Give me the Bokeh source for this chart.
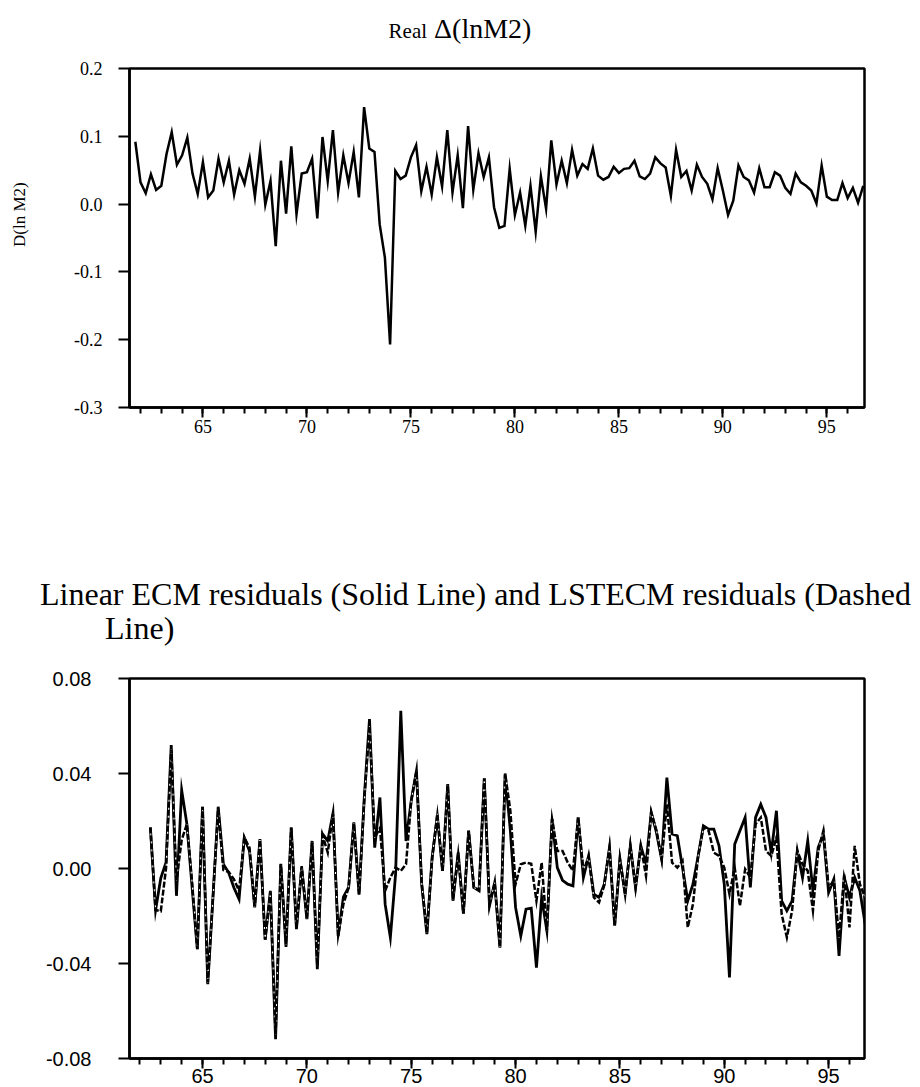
import math
from bokeh.plotting import figure
from bokeh.layouts import column
from bokeh.models import Range1d, FixedTicker, PrintfTickFormatter, Div
from bokeh.embed import file_html
from bokeh.resources import INLINE

# ---------------- data ----------------
# Real D(ln M2), quarterly, 1961Q4 .. 1996Q4 (years written as two digits)
m2_start = 61.75
m2_step = 0.25
dlnm2 = [
    0.092, 0.032, 0.016, 0.044, 0.021, 0.027, 0.074, 0.106, 0.058, 0.072,
    0.098, 0.045, 0.015, 0.062, 0.010, 0.020, 0.067, 0.032, 0.064, 0.014,
    0.050, 0.030, 0.067, 0.011, 0.079, -0.001, 0.034, -0.062, 0.064, -0.014,
    0.085, -0.015, 0.045, 0.047, 0.067, -0.021, 0.099, 0.034, 0.109, 0.017,
    0.072, 0.031, 0.077, 0.010, 0.143, 0.082, 0.077, -0.030, -0.079, -0.207,
    0.049, 0.037, 0.042, 0.069, 0.087, 0.019, 0.055, 0.014, 0.069, 0.026,
    0.109, 0.017, 0.072, -0.006, 0.115, 0.021, 0.075, 0.040, 0.069, -0.005,
    -0.035, -0.032, 0.052, -0.016, 0.017, -0.032, 0.027, -0.041, 0.041, -0.007,
    0.094, 0.029, 0.064, 0.031, 0.080, 0.042, 0.059, 0.052, 0.082, 0.042,
    0.036, 0.040, 0.055, 0.046, 0.052, 0.053, 0.064, 0.041, 0.037, 0.045,
    0.069, 0.060, 0.054, 0.012, 0.080, 0.040, 0.049, 0.020, 0.058, 0.040,
    0.030, 0.007, 0.053, 0.020, -0.016, 0.005, 0.057, 0.040, 0.035, 0.017,
    0.053, 0.025, 0.025, 0.047, 0.042, 0.024, 0.015, 0.045, 0.032, 0.027,
    0.020, 0.001, 0.057, 0.011, 0.006, 0.006, 0.031, 0.009, 0.024, 0.002,
    0.027,
]

# Residuals, quarterly, 1962Q3 .. 1996Q4
res_start = 62.5
res_step = 0.25
ecm_resid = [
    0.0173, -0.0175, -0.0040, 0.0025, 0.0520, -0.0115, 0.0330, 0.0187, -0.0080, -0.0340,
    0.0260, -0.0487, -0.0120, 0.0260, 0.0018, -0.0017, -0.0080, -0.0129, 0.0130, 0.0074,
    -0.0164, 0.0124, -0.0300, -0.0094, -0.0719, 0.0018, -0.0330, 0.0173, -0.0255, 0.0004,
    -0.0213, 0.0116, -0.0424, 0.0145, 0.0116, 0.0232, -0.0284, -0.0120, -0.0080, 0.0194,
    -0.0108, 0.0299, 0.0629, 0.0088, 0.0299, -0.0150, -0.0290, -0.0024, 0.0664, 0.0116,
    0.0285, 0.0410, -0.0066, -0.0276, 0.0046, 0.0220, -0.0010, 0.0355, -0.0136, 0.0067,
    -0.0190, 0.0159, -0.0080, -0.0094, 0.0380, -0.0157, -0.0059, -0.0333, 0.0397, 0.0159,
    -0.0164, -0.0284, -0.0171, -0.0167, -0.0417, -0.0122, -0.0262, 0.0208, 0.0004, -0.0050,
    -0.0066, -0.0073, 0.0215, -0.0038, 0.0053, -0.0108, -0.0122, -0.0066, 0.0088, -0.0241,
    0.0039, -0.0108, 0.0095, -0.0080, 0.0095, 0.0018, 0.0236, 0.0152, 0.0039, 0.0383,
    0.0145, 0.0138, 0.0004, -0.0136, -0.0066, 0.0053, 0.0180, 0.0166, 0.0166, 0.0095,
    -0.0066, -0.0459, 0.0102, 0.0159, 0.0215, -0.0080, 0.0215, 0.0270, 0.0215, 0.0067,
    0.0243, -0.0136, -0.0178, -0.0136, 0.0074, -0.0038, 0.0116, -0.0094, 0.0088, 0.0145,
    -0.0101, -0.0045, -0.0368, -0.0038, -0.0122, -0.0038, -0.0094, -0.0234,
]
lstecm_resid = [
    0.0173, -0.0175, -0.0180, 0.0000, 0.0500, -0.0050, 0.0120, 0.0187, -0.0060, -0.0340,
    0.0260, -0.0480, -0.0120, 0.0250, -0.0007, -0.0014, -0.0045, -0.0094, 0.0130, 0.0088,
    -0.0160, 0.0120, -0.0300, -0.0100, -0.0700, 0.0020, -0.0320, 0.0170, -0.0250, 0.0010,
    -0.0210, 0.0110, -0.0410, 0.0140, 0.0067, 0.0230, -0.0280, -0.0150, -0.0080, 0.0190,
    -0.0110, 0.0290, 0.0600, 0.0130, 0.0170, -0.0094, -0.0038, 0.0004, -0.0010, 0.0018,
    0.0285, 0.0410, -0.0060, -0.0270, 0.0040, 0.0230, -0.0010, 0.0350, -0.0130, 0.0060,
    -0.0190, 0.0160, -0.0080, -0.0090, 0.0380, -0.0150, -0.0060, -0.0330, 0.0400, 0.0243,
    -0.0066, 0.0018, 0.0025, 0.0020, -0.0136, 0.0025, -0.0262, 0.0208, 0.0074, 0.0074,
    0.0025, -0.0010, 0.0215, -0.0010, 0.0050, -0.0122, -0.0143, -0.0070, 0.0088, -0.0240,
    0.0040, -0.0110, 0.0095, -0.0080, 0.0095, -0.0031, 0.0236, 0.0160, 0.0039, 0.0270,
    0.0025, 0.0004, 0.0032, -0.0248, -0.0150, 0.0053, 0.0172, 0.0159, 0.0067, 0.0053,
    0.0004, -0.0108, 0.0004, -0.0157, -0.0003, -0.0038, 0.0187, 0.0215, 0.0074, 0.0053,
    0.0130, -0.0192, -0.0290, -0.0178, 0.0074, 0.0018, -0.0010, -0.0178, 0.0074, 0.0159,
    -0.0080, -0.0052, -0.0290, -0.0024, -0.0248, 0.0095, -0.0066, -0.0122,
]

x_major = [65, 70, 75, 80, 85, 90, 95]
x_minor = list(range(62, 97))
top_yticks = [-0.3, -0.2, -0.1, 0.0, 0.1, 0.2]
bot_yticks = [-0.08, -0.04, 0.0, 0.04, 0.08]

top_title_a = "Real"
top_title_b = "\u0394(lnM2)"
top_ylabel = "D(ln M2)"
bot_title_1 = "Linear ECM residuals (Solid Line) and LSTECM residuals (Dashed"
bot_title_2 = "Line)"

m2_x = [m2_start + m2_step * i for i in range(len(dlnm2))]
res_x = [res_start + res_step * i for i in range(len(ecm_resid))]

SERIF = "Liberation Serif"
SANS = "Liberation Sans"
W = 920


def style_axes(p, font, size, ylabel_standoff, yticks, yfmt, y_tick_out):
    p.xgrid.visible = False
    p.ygrid.visible = False
    p.outline_line_color = "black"
    p.outline_line_width = 2.5
    p.background_fill_color = "white"
    p.border_fill_color = "white"
    for ax in (p.xaxis[0], p.yaxis[0]):
        ax.axis_line_width = 2.5
        ax.axis_line_color = "black"
        ax.major_tick_line_width = 2
        ax.minor_tick_line_width = 2
        ax.major_tick_in = 0
        ax.minor_tick_in = 0
        ax.major_label_text_font = font
        ax.major_label_text_font_size = size
        ax.major_label_text_color = "black"
    xa = p.xaxis[0]
    xa.ticker = FixedTicker(ticks=x_major, minor_ticks=x_minor)
    xa.major_tick_out = 10
    xa.minor_tick_out = 6
    xa.major_label_standoff = 2
    ya = p.yaxis[0]
    ya.ticker = FixedTicker(ticks=yticks, minor_ticks=[])
    ya.formatter = PrintfTickFormatter(format=yfmt)
    ya.major_tick_out = y_tick_out
    ya.minor_tick_out = 0
    ya.major_label_standoff = ylabel_standoff


# ---------------- top title (page y 0..60) ----------------
html1 = (
    '<div style="position:relative;width:920px;height:60px;overflow:hidden;">'
    '<div style="position:absolute;left:0;top:15px;width:920px;text-align:center;'
    "white-space:nowrap;font-family:'Liberation Serif',serif;font-size:28px;"
    'line-height:1;color:#000;">'
    '<span style="font-size:21px;">%s</span> <span>%s</span></div></div>'
    % (top_title_a, top_title_b)
)
div1 = Div(text=html1, width=W, height=60, margin=0)

# ---------------- top chart (page y 60..480) ----------------
p1 = figure(width=W, height=420, output_backend="svg", toolbar_location=None,
            x_range=Range1d(61.47, 96.81), y_range=Range1d(-0.3, 0.2),
            min_border_left=129, min_border_right=56,
            min_border_top=8, min_border_bottom=73)
style_axes(p1, SERIF, "18px", 16, top_yticks, "%.1f", 11)
ya1 = p1.yaxis[0]
# leading no-break spaces nudge the centred label upward, as in the original
ya1.axis_label = "\u00a0" * 11 + top_ylabel
ya1.axis_label_text_font = SERIF
ya1.axis_label_text_font_size = "17px"
ya1.axis_label_text_font_style = "normal"
ya1.axis_label_text_color = "black"
ya1.axis_label_standoff = 42
p1.line(m2_x, dlnm2, line_color="black", line_width=2.5, line_join="miter")

# ---------------- bottom title (page y 480..660) ----------------
line_style = ("position:absolute;white-space:nowrap;"
              "font-family:'Liberation Serif',serif;font-size:32px;"
              "line-height:1;color:#000;")
html2 = (
    '<div style="position:relative;width:920px;height:180px;overflow:hidden;">'
    '<div style="%sleft:40px;top:98px;">%s</div>'
    '<div style="%sleft:105px;top:132px;">%s</div>'
    '</div>' % (line_style, bot_title_1, line_style, bot_title_2)
)
div2 = Div(text=html2, width=W, height=180, margin=0)

# ---------------- bottom chart (page y 660..1087) ----------------
p2 = figure(width=W, height=427, output_backend="svg", toolbar_location=None,
            x_range=Range1d(61.5, 96.72), y_range=Range1d(-0.08, 0.08),
            min_border_left=123, min_border_right=52,
            min_border_top=18, min_border_bottom=29)
style_axes(p2, SANS, "20px", 27, bot_yticks, "%.2f", 11)
p2.xaxis[0].major_label_standoff = 0
p2.line(res_x, ecm_resid, line_color="black", line_width=2.8, line_join="miter")
p2.line(res_x, lstecm_resid, line_color="white", line_width=1.0)
p2.line(res_x, lstecm_resid, line_color="black", line_width=2.5,
        line_dash="6 2", line_join="miter")

layout = column(div1, p1, div2, p2, spacing=0)
open("out.html", "w").write(file_html(layout, INLINE))
